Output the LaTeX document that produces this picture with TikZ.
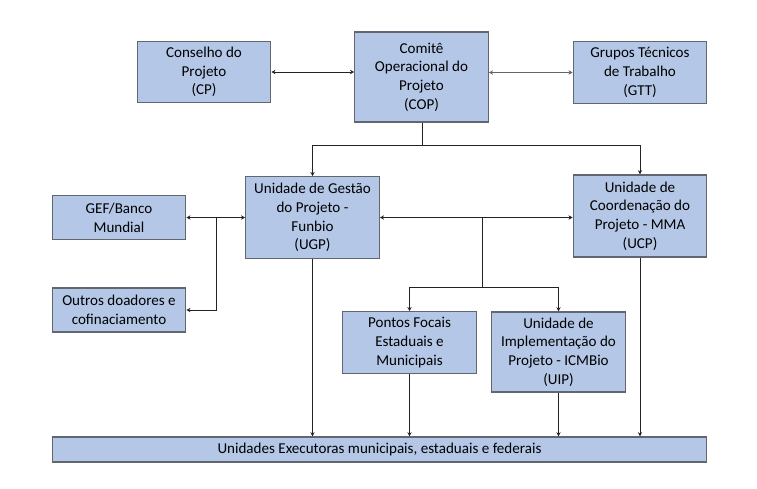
\documentclass[tikz,border=0pt]{standalone}
\usepackage{fontspec}
\setmainfont{Carlito}
\usetikzlibrary{arrows.meta,calc}
\definecolor{boxB}{RGB}{180,199,231}
\definecolor{boxE}{RGB}{98,102,112}
\definecolor{lnK}{RGB}{35,35,35}

\begin{document}
\begin{tikzpicture}[x=0.75pt,y=-0.75pt,>={Stealth[length=3.2pt,width=3.2pt]},
  blk/.style={draw=boxE,line width=0.9pt,fill=boxB,align=center,inner sep=1pt,
    font=\fontsize{11.3}{14}\selectfont,minimum width=100pt},
  con/.style={draw=lnK,line width=0.7pt}]
\useasboundingbox (0,0) rectangle (757,489);
% top row
\node[blk,minimum height=46pt] (cp) at (204,72) {Conselho do\\Projeto\\(CP)};
\node[blk,minimum height=67.5pt] (cop) at (421.5,77) {Comitê\\Operacional do\\Projeto\\(COP)};
\node[blk,minimum height=46pt] (gtt) at (640,72.5) {Grupos Técnicos\\de Trabalho\\(GTT)};
% middle row
\node[blk,minimum height=61pt] (ugp) at (312.5,217.5) {Unidade de Gestão\\do Projeto -\\Funbio\\(UGP)};
\node[blk,minimum height=61.5pt] (ucp) at (640,216) {Unidade de\\Coordenação do\\Projeto - MMA\\(UCP)};
\node[blk,minimum height=32.5pt] (gef) at (119,217.5) {GEF/Banco\\Mundial};
\node[blk,minimum height=33pt] (oud) at (119,310) {Outros doadores e\\cofinaciamento};
\node[blk,minimum height=46pt] (pfe) at (409.5,342.5) {Pontos Focais\\Estaduais e\\Municipais};
\node[blk,minimum height=60pt] (uip) at (558.5,352) {Unidade de\\Implementação do\\Projeto - ICMBio\\(UIP)};
% bottom
\node[blk,minimum width=490.5pt,minimum height=18.75pt] (uex) at (379.5,449.5) {Unidades Executoras municipais, estaduais e federais};
% junctions
\coordinate (jt) at (422,145);
\coordinate (jl) at (216,217.5);
\coordinate (jm) at (482,217.5);
\coordinate (jb) at (482,287);
% connectors
\draw[con,<->] (cp.east) -- (cp.east -| cop.west);
\draw[con,draw=lnK!70,<->] (gtt.west -| cop.east) -- (gtt.west);
\draw[con] (cop.south -| jt) -- (jt);
\draw[con,->] (jt) -| (ugp.north);
\draw[con,->] (jt) -| (ucp.north);
\draw[con,<->] (gef.east) -- (ugp.west);
\draw[con,->] (jl) |- (oud.east);
\draw[con,<->] (ugp.east) -- (ugp.east -| ucp.west);
\draw[con] (jm) -- (jb);
\draw[con,->] (jb) -| (pfe.north);
\draw[con,->] (jb) -| (uip.north);
\foreach \n in {ugp,pfe,uip,ucp}
  \draw[con,->] (\n.south) -- (\n.south |- uex.north);
\end{tikzpicture}
\end{document}
